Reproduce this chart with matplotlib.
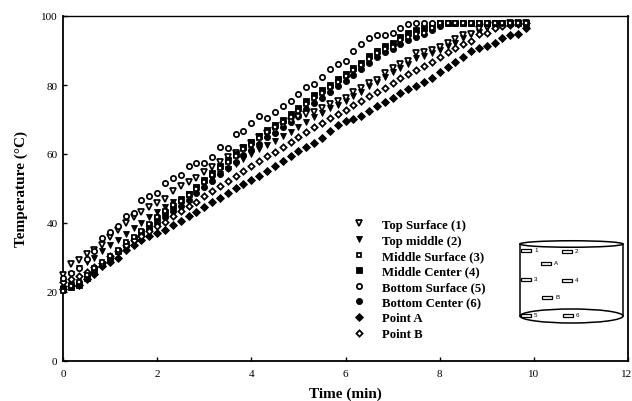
import numpy as np
import matplotlib
matplotlib.use('Agg')
import matplotlib.pyplot as plt
from matplotlib.patches import Ellipse, Rectangle
from matplotlib.transforms import ScaledTranslation

plt.rcParams['font.family'] = ['Liberation Serif', 'DejaVu Serif']

# readings every 10 s
time_min = np.arange(60) / 6

top_surface = [24.9, 28.1, 29.3, 31, 32.2, 33.5, 36, 38, 40, 41.7,
               43.2, 44.6, 45.8, 47, 49.3, 50.7, 52, 53, 54.8, 56.2,
               57.7, 59, 60.3, 61.7, 63.2, 65, 66, 67, 68.4, 69.6,
               70.7, 71.6, 72.2, 73.3, 74.5, 75.4, 76.3, 78, 79.1, 80.6,
               81.4, 83.5, 84.9, 86, 87, 89.3, 89.6, 90.1, 91, 92.2,
               93.3, 94.5, 94.8, 96.2, 96.8, 97.5, 97.8, 98, 98, 98]
top_middle = [22.5, 25.2, 27, 28.7, 30, 31.9, 33.6, 35, 36.8, 38.5,
              40, 41.7, 43.3, 44.7, 46, 47, 48.4, 50, 51.3, 52.8,
              54.2, 55.6, 57, 58.5, 60, 61.4, 62.7, 63.8, 65.2, 66.4,
              67.8, 69.2, 70.7, 71.9, 73.3, 74.2, 75.4, 76.8, 78, 79.7,
              80.9, 82.3, 83.8, 85, 86, 87.8, 88.5, 89.2, 90.2, 91.2,
              92.3, 93.7, 94.8, 95.5, 96.4, 97, 97.4, 97.7, 97.8, 97]
middle_surface = [20.3, 21.8, 22.8, 24.8, 27, 28.7, 30.3, 32.2, 34.5, 36,
                  37.7, 39.7, 41.7, 43.5, 45.2, 46.4, 48.2, 50, 52, 54,
                  56, 57.7, 59.4, 61.4, 62.6, 64.6, 66.4, 67.8, 69.2, 70.7,
                  72.5, 74.5, 76.2, 77.7, 79.4, 80.9, 82.6, 84.3, 85.8, 87.5,
                  89.3, 90.4, 91, 93, 93.9, 94.8, 95, 96.5, 98, 98,
                  98, 98, 98, 98, 98, 98, 98, 98, 98, 98]
middle_center = [21, 21.5, 22, 24, 26, 28, 29.8, 31.8, 33.8, 35.6,
                 37.4, 39.5, 41.5, 43.3, 45, 46.6, 48.4, 50.4, 52.4, 54.4,
                 56.4, 58.2, 60, 61.9, 63.4, 65.3, 67, 68.4, 70, 71.5,
                 73.3, 75.3, 77, 78.5, 80, 81.7, 83.3, 85, 86.5, 88.3,
                 90, 91.4, 92.2, 93.8, 95, 96, 96.5, 97.4, 98, 98,
                 98, 98, 98, 98, 98, 98, 98, 98, 98, 98]
bottom_surface = [24, 25.5, 27, 29.5, 32, 35.6, 37.5, 39, 42, 43,
                  46.7, 47.8, 48.7, 51.6, 53, 54, 56.5, 57.4, 57.4, 59,
                  62, 61.7, 65.8, 66.7, 69, 71, 70.4, 72.2, 74, 75.4,
                  77.4, 79.4, 80.3, 82.3, 84.6, 86, 87, 89.9, 91.9, 93.6,
                  94.5, 94.5, 95, 96.5, 97.7, 98, 98, 98, 98, 98,
                  98, 98, 98, 98, 98, 98, 98, 98, 98, 98]
bottom_center = [21.5, 22.5, 23, 25, 27, 28.5, 30, 31.8, 33.3, 35,
                 36.5, 38.3, 40, 41.8, 43.6, 45, 46.8, 48.6, 50.5, 52.3,
                 54.3, 56, 57.8, 59.7, 61.2, 63, 64.8, 66.2, 67.8, 69.2,
                 71, 73, 74.8, 76.3, 78, 79.6, 81.2, 83, 84.6, 86.3,
                 88, 89.5, 90.5, 92, 93, 94, 94.8, 96, 97, 98,
                 98, 98, 98, 98, 98, 98, 98, 98, 98, 98]
point_a = [21, 21.7, 22, 23.8, 25.2, 27.5, 28.7, 30, 32.2, 33.6,
           35, 36.2, 37, 38, 39.4, 40.6, 42, 43.2, 44.6, 46,
           47.2, 48.7, 50.1, 51.3, 52.5, 53.6, 55, 56.5, 58, 59.4,
           60.9, 62, 63.2, 64.6, 66.7, 68.4, 69.6, 70.1, 71, 72.5,
           73.9, 75, 76.2, 77.7, 78.8, 79.7, 80.9, 82, 83.8, 85.2,
           86.7, 88.1, 89.9, 90.7, 91.4, 92.2, 93.6, 94.5, 94.8, 96.5]
point_b = [23, 23.8, 24.6, 25.8, 27.2, 28.4, 30.4, 31.9, 33.6, 35,
           36.2, 37.7, 39, 40.3, 42, 43.5, 44.9, 46, 47.8, 49.2,
           50.7, 52.2, 53.6, 55, 56.5, 58, 59.4, 60.7, 62, 63.4,
           64.9, 66.4, 67.8, 69, 70.4, 71.6, 72.8, 74.2, 75.4, 76.8,
           78, 79.1, 80.6, 82, 83.2, 84.3, 85.5, 86.7, 88, 89.6,
           90.7, 91.9, 92.8, 94.8, 95, 96.5, 97, 97.5, 97.8, 98]

legend_labels = ['Top Surface (1)', 'Top middle (2)', 'Middle Surface (3)', 'Middle Center (4)',
                 'Bottom Surface (5)', 'Bottom Center (6)', 'Point A', 'Point B']
series = [top_surface, top_middle, middle_surface, middle_center,
          bottom_surface, bottom_center, point_a, point_b]
markers = ['v', 'v', 's', 's', 'o', 'o', 'D', 'D']
is_open = [True, False, True, False, True, False, False, True]
sizes = [4.4, 5.0, 3.0, 4.0, 3.8, 4.4, 3.7, 3.2]
# filled ones go under the open ones, like the original
layer = [3, 2, 5, 3, 4, 2, 2, 3]

# sensor sketch: label, left edge and centre height in pixels
sensors = [('1', 521, 251.5), ('2', 562, 252), ('A', 541, 264), ('3', 521, 280), ('4', 562, 281),
           ('B', 542, 298), ('5', 521, 316), ('6', 563, 316)]

fig = plt.figure(figsize=(6.32, 4.02), dpi=100)
ax = fig.add_axes([63 / 632, 1 - 362 / 402, 565 / 632, 345 / 402])

for i in range(8):
    ax.plot(time_min, series[i], linestyle='none', marker=markers[i], ms=sizes[i],
            mfc='white' if is_open[i] else 'black', mec='black',
            mew=1.25 if is_open[i] else 0.6, label=legend_labels[i],
            zorder=layer[i], clip_on=False)

ax.set_xlim(0, 12)
ax.set_ylim(0, 100)
ax.set_xticks(range(0, 13, 2))
ax.set_yticks(range(0, 101, 20))
ax.tick_params(direction='in', length=3, width=1, labelsize=8, pad=4)
ax.tick_params(axis='x', pad=6)
ax.spines['left'].set_linewidth(1.3)
ax.spines['bottom'].set_linewidth(1.3)
ax.spines['top'].set_linewidth(1.0)
ax.spines['right'].set_linewidth(1.3)
ax.set_xlabel('Time (min)', fontsize=11, fontweight='bold', labelpad=6)
ax.set_ylabel('Temperature (°C)', fontsize=11, fontweight='bold', labelpad=9)

# the 12 sits hard against the right edge of the figure
last = ax.get_xticklabels()[-1]
last.set_transform(last.get_transform() + ScaledTranslation(-1 / 72, 0, fig.dpi_scale_trans))

ax.legend(loc='lower left', bbox_to_anchor=(290 / 565, 21 / 345), frameon=False, numpoints=1,
          prop={'size': 9.2, 'weight': 'bold'}, labelspacing=0.28, handlelength=1.0,
          handletextpad=1.3, borderpad=0, borderaxespad=0)

# cylinder sketch, drawn in pixel coordinates
sk = fig.add_axes([0, 0, 1, 1])
sk.set_xlim(0, 632)
sk.set_ylim(402, 0)
sk.axis('off')
sk.patch.set_alpha(0)
sk.add_patch(Ellipse((571.5, 245), 103, 6.5, fill=False, ec='black', lw=1.1))
sk.add_patch(Ellipse((571.5, 317), 103, 14, fill=False, ec='black', lw=1.1))
sk.plot([520, 520], [245, 317], color='black', lw=1.1)
sk.plot([623, 623], [245, 317], color='black', lw=1.1)
for name, left, mid in sensors:
    sk.add_patch(Rectangle((left, mid - 1.5), 10, 3, fill=False, ec='black', lw=0.9))
    sk.text(left + 13, mid - 0.5, name, fontsize=4.5, family='Liberation Sans', va='center', ha='left')

fig.savefig('out.png', dpi=100)
